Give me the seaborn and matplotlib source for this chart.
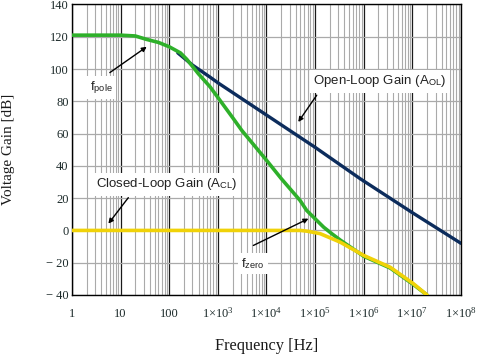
import numpy as np
import pandas as pd
import matplotlib
matplotlib.use("Agg")
import matplotlib.pyplot as plt
import seaborn as sns
from matplotlib.ticker import FixedLocator, LogLocator, NullFormatter

# ---- data ----
blue_f = [150, 300, 690, 1e3, 1e4, 1e5, 8.5e5, 1e7, 1e8]
blue_db = [110, 102.5, 95, 91.5, 71.5, 51.5, 32, 11, -8]

green_f = [1, 10, 20, 34, 60, 100, 170, 230, 400, 690, 1100, 2000, 3100,
           1e4, 2e4, 4.9e4, 6.7e4, 9.2e4, 1.5e5, 2.2e5, 3.3e5, 1e6, 3.5e6,
           1.05e7, 2e7]
green_db = [121, 121, 120.5, 118.4, 116.5, 113.8, 110, 106, 97, 89, 80.7,
            70, 62, 43.5, 32.2, 18.6, 12.4, 8.3, 2, -2, -6, -16, -23.3,
            -33.5, -40]

yellow_f = [1, 1e4, 5e4, 7e4, 1.27e5, 2e5, 3.3e5, 1e6, 3.5e6, 1.05e7, 2e7]
yellow_db = [0, 0, 0, -0.5, -2, -4.5, -7.3, -15.5, -22.8, -33, -40]

x_ticks = [1, 10, 100, 1e3, 1e4, 1e5, 1e6, 1e7, 1e8]
x_labels = ["1", "10", "100", r"$1{\times}10^{3}$", r"$1{\times}10^{4}$",
            r"$1{\times}10^{5}$", r"$1{\times}10^{6}$", r"$1{\times}10^{7}$",
            r"$1{\times}10^{8}$"]
y_ticks = [-40, -20, 0, 20, 40, 60, 80, 100, 120, 140]
y_labels = ["\u2212 40", "\u2212 20", "0", "20", "40", "60", "80", "100", "120", "140"]

# ---- style ----
sns.set_theme(style="white")
plt.rcParams["font.family"] = ["Liberation Sans", "DejaVu Sans"]
plt.rcParams["mathtext.fontset"] = "custom"
plt.rcParams["mathtext.rm"] = "Liberation Serif"
plt.rcParams["mathtext.it"] = "Liberation Serif:italic"
plt.rcParams["mathtext.sf"] = "Liberation Sans"

fig = plt.figure(figsize=(4.8, 3.57), dpi=100)
ax = fig.add_axes([0.15, 0.1737, 0.8104, 0.8137])
ax.set_facecolor("white")

df_b = pd.DataFrame({"f": blue_f, "g": blue_db})
df_g = pd.DataFrame({"f": green_f, "g": green_db})
df_y = pd.DataFrame({"f": yellow_f, "g": yellow_db})

sns.lineplot(data=df_b, x="f", y="g", color="#0c2c5c", lw=2.4, ax=ax,
             estimator=None, sort=False, zorder=3)
sns.lineplot(data=df_g, x="f", y="g", color="#2eb02a", lw=2.6, ax=ax,
             estimator=None, sort=False, zorder=4)
sns.lineplot(data=df_y, x="f", y="g", color="#f0d208", lw=2.6, ax=ax,
             estimator=None, sort=False, zorder=5)

ax.set_xscale("log")
ax.set_xlim(1, 1e8)
ax.set_ylim(-40, 140)

ax.xaxis.set_major_locator(FixedLocator(x_ticks))
ax.xaxis.set_minor_locator(LogLocator(base=10, subs=np.arange(2, 10), numticks=100))
ax.xaxis.set_minor_formatter(NullFormatter())
ax.set_xticklabels(x_labels)
ax.set_yticks(y_ticks)
ax.set_yticklabels(y_labels)

ax.grid(which="major", axis="x", color="#1a1a1a", lw=0.9, zorder=0)
ax.grid(which="minor", axis="x", color="#aaaaaa", lw=0.8, zorder=0)
ax.grid(which="major", axis="y", color="#aaaaaa", lw=0.9, zorder=0)
ax.set_axisbelow(True)

ax.tick_params(axis="both", which="both", length=0)
ax.tick_params(axis="x", pad=16, labelsize=9, labelcolor="#1c2a2a")
ax.tick_params(axis="y", pad=2.5, labelsize=9, labelcolor="#1c2a2a")
for t in ax.get_xticklabels():
    t.set_fontfamily(["Liberation Serif"])
    t.set_verticalalignment("baseline")
for t in ax.get_yticklabels():
    t.set_fontfamily(["Liberation Serif"])

for s in ax.spines.values():
    s.set_color("black")
    s.set_linewidth(1.0)

ax.set_xlabel("Frequency [Hz]", fontsize=11.8, family=["Liberation Serif"],
              color="#1a1a1a", va="center")
ax.xaxis.set_label_coords(0.5, -0.176)
ax.set_ylabel("Voltage Gain [dB]", fontsize=11, family=["Liberation Serif"],
              color="#1a1a1a", va="center")
ax.yaxis.set_label_coords(-0.162, 0.5)

box = dict(facecolor="white", edgecolor="none", pad=2.5)
tfs = 9.5
ax.text(2.17e6, 92.5, r"Open-Loop Gain (A$_{\mathsf{OL}}$)", fontsize=tfs,
        ha="center", va="center", color="#222222", bbox=box, zorder=6)
ax.text(90, 28.5, r"Closed-Loop Gain (A$_{\mathsf{CL}}$)", fontsize=tfs,
        ha="center", va="center", color="#222222", bbox=box, zorder=6)
ax.text(4.0, 88.5, r"f$_{\mathsf{pole}}$", fontsize=tfs,
        ha="center", va="center", color="#222222", bbox=box, zorder=6)
ax.text(5300, -20.5, r"f$_{\mathsf{zero}}$", fontsize=tfs,
        ha="center", va="center", color="#222222", bbox=box, zorder=6)

arrow = dict(arrowstyle="-|>", color="black", lw=1.0, mutation_scale=7,
             shrinkA=0, shrinkB=0)
ax.annotate("", xy=(4.5e4, 67.2), xytext=(1.08e5, 83.8), arrowprops=arrow, zorder=7)
ax.annotate("", xy=(5.6, 4.2), xytext=(14.4, 20.3), arrowprops=arrow, zorder=7)
ax.annotate("", xy=(34.4, 113.8), xytext=(6.0, 97.8), arrowprops=arrow, zorder=7)
ax.annotate("", xy=(7.3e4, 7.3), xytext=(5370, -9.3), arrowprops=arrow, zorder=7)

if ax.get_legend() is not None:
    ax.get_legend().remove()

fig.savefig("out.png", dpi=100)
